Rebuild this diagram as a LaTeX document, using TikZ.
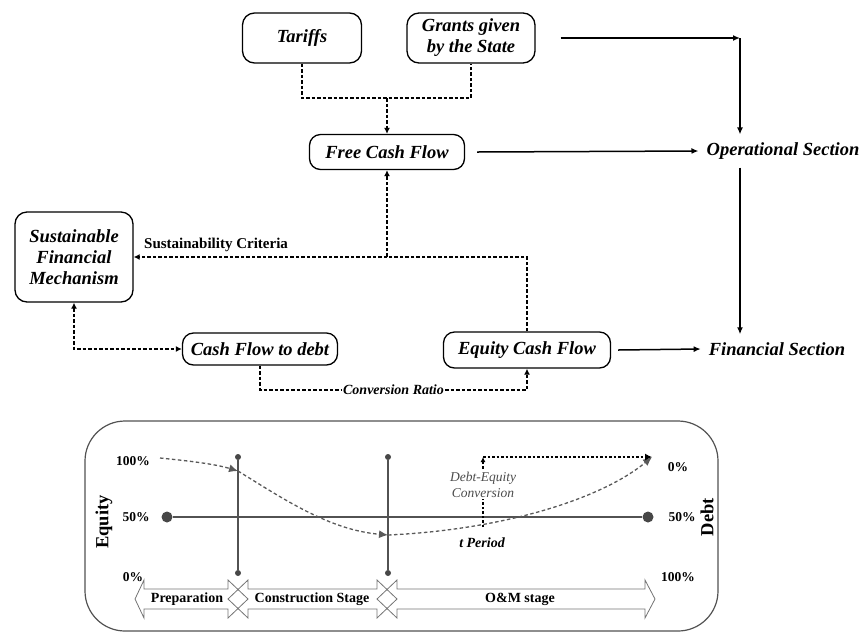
\documentclass[tikz,border=0pt]{standalone}
\usepackage{fontspec}
\setmainfont{Liberation Serif}
\usetikzlibrary{arrows.meta}
\newcommand\mainlbl{\fontsize{18.5}{21}\selectfont\bfseries\itshape}
\newcommand\smalllbl{\fontsize{15}{17}\selectfont\bfseries}
\begin{document}
\begin{tikzpicture}[x=1pt,y=-1pt,
  box/.style={draw,line width=1.3pt,rounded corners=12pt,inner sep=2pt,align=center,font=\mainlbl},
  sect/.style={inner sep=8pt,font=\mainlbl},
  arr/.style={line width=1.5pt,-{Latex[length=7pt,width=6pt]}},
  dsh/.style={line width=1.7pt,dash pattern=on 3.5pt off 2pt},
  tip/.style={-{Latex[length=6pt,width=6pt]}},
  panel/.style={draw=black!68,line width=1.2pt},
  curve/.style={draw=black!65,line width=1.3pt,dash pattern=on 3.5pt off 2.5pt,-{Latex[length=9pt,width=8pt]}},
  stage/.style={draw=black!55,line width=0.8pt},
  pct/.style={font=\fontsize{13.5}{15}\selectfont\bfseries},
  axis/.style={font=\fontsize{18.5}{20}\selectfont\bfseries,rotate=90},
  stagetxt/.style={font=\fontsize{14}{16}\selectfont\bfseries},
  dot/.style={fill=black!72,circle,inner sep=0pt}]
\useasboundingbox (0,0) rectangle (864,633);

% upper flow chart
\node[box,minimum width=119pt,minimum height=50pt] (tar) at (302,38) {Tariffs};
\node[box,minimum width=128pt,minimum height=50pt] (gr) at (471,38) {Grants given\\by the State};
\node[box,minimum width=155pt,minimum height=35pt,rounded corners=11pt] (fcf) at (387,152) {Free Cash Flow};
\node[sect] (ops) at (783,151) {Operational Section};
\node[box,minimum width=118pt,minimum height=90pt] (sfm) at (74,257) {Sustainable\\Financial\\Mechanism};
\node[box,minimum width=155pt,minimum height=32pt,rounded corners=11pt] (cfd) at (260,349) {Cash Flow to debt};
\node[box,minimum width=167pt,minimum height=36pt,rounded corners=11pt] (ecf) at (527,350) {Equity Cash Flow};
\node[sect] (fins) at (777,349) {Financial Section};

\coordinate (j1) at (387,98);
\coordinate (j2) at (387,257);
\coordinate (c1) at (740,38);

\draw[dsh] (tar.south) |- (j1) -| (gr.south);
\draw[dsh,tip] (j1) -- (fcf.north);
\draw[arr] ([xshift=25pt]gr.east) -- (c1);
\draw[arr] (c1) -- (c1 |- ops.north);
\draw[arr] ([xshift=12pt]fcf.east) -- (ops.west);
\draw[arr] (c1 |- ops.south) -- (c1 |- fins.north);
\draw[arr] ([xshift=7pt]ecf.east) -- (fins.west);

\draw[dsh,tip] (ecf.north) |- (j2) -- (fcf.south);
\draw[dsh,tip] (j2) -- (sfm.east);
\node[font=\smalllbl,anchor=south west,inner sep=1pt] (crit) at (143,253) {Sustainability Criteria};
\draw[dsh,{Latex[length=6pt,width=6pt]}-{Latex[length=6pt,width=6pt]}] (sfm.south) |- (cfd.west);
\draw[dsh,tip] (cfd.south) -- ++(0,24) -| node[pos=0.25,fill=white,inner sep=1pt,font=\fontsize{14}{16}\selectfont\bfseries\itshape] (cr) {Conversion Ratio} (ecf.south);

% lower panel: equity / debt over the project stages
\draw[panel,rounded corners=40pt] (85,421) rectangle (718,631);

\node[dot,minimum size=11pt] (l50) at (167,517) {};
\node[dot,minimum size=11pt] (r50) at (648,517) {};
\draw[panel] (l50) -- (r50);

\node[dot,minimum size=6pt] (a1) at (238,457) {};
\node[dot,minimum size=6pt] (a2) at (238,573) {};
\node[dot,minimum size=6pt] (b1) at (388,457) {};
\node[dot,minimum size=6pt] (b2) at (388,573) {};
\draw[panel] (a1) -- (a2);
\draw[panel] (b1) -- (b2);

\node[pct] (e100) at (133,461) {100\%};
\node[pct] (e50) at (136,517) {50\%};
\node[pct] (e0) at (133,577) {0\%};
\node[pct] (d0) at (678,467) {0\%};
\node[pct] (d50) at (682,517) {50\%};
\node[pct] (d100) at (678,577) {100\%};
\node[axis] (eq) at (104,522) {Equity};
\node[axis] (debt) at (707,517) {Debt};

\coordinate (p0) at (160,458);
\coordinate (p1) at (238,471);
\coordinate (p2) at (388,535);
\coordinate (p3) at (652,457);
\coordinate (q0) at (483,527);
\coordinate (q1) at (483,457);
\draw[curve] (p0) .. controls (190,461) and (215,464) .. (p1);
\draw[curve] (p1) .. controls (285,500) and (330,530) .. (p2);
\draw[curve] (p2) .. controls (500,530) and (600,500) .. (p3);

\draw[line width=1.1pt,dash pattern=on 2.5pt off 2pt,-{Latex[length=5pt,width=5pt]}] (q0) -- (q1);
\node[fill=white,inner sep=1pt,align=center,text=black!70,font=\fontsize{13.5}{16}\selectfont\itshape] (dec) at (483,485) {Debt-Equity\\Conversion};
\draw[line width=1.1pt,dash pattern=on 2.5pt off 2pt,-{Latex[length=7pt,width=7pt]}] (q1) -- (p3);
\node[font=\fontsize{14}{16}\selectfont\bfseries\itshape] (tp) at (482,543) {t Period};

% stage arrows
\draw[stage] (135,599) -- (144,580) -- (144,589) -- (228,589) -- (228,580) -- (248,599) -- (228,618) -- (228,609) -- (144,609) -- (144,618) -- cycle;
\draw[stage] (228,599) -- (248,580) -- (248,589) -- (377,589) -- (377,580) -- (397,599) -- (377,618) -- (377,609) -- (248,609) -- (248,618) -- cycle;
\draw[stage] (377,599) -- (397,580) -- (397,589) -- (645,589) -- (645,580) -- (655,599) -- (645,618) -- (645,609) -- (397,609) -- (397,618) -- cycle;
\node[stagetxt] (prep) at (187,599) {Preparation};
\node[stagetxt] (cons) at (312,599) {Construction Stage};
\node[stagetxt] (om) at (520,599) {O\&M stage};
\end{tikzpicture}
\end{document}
